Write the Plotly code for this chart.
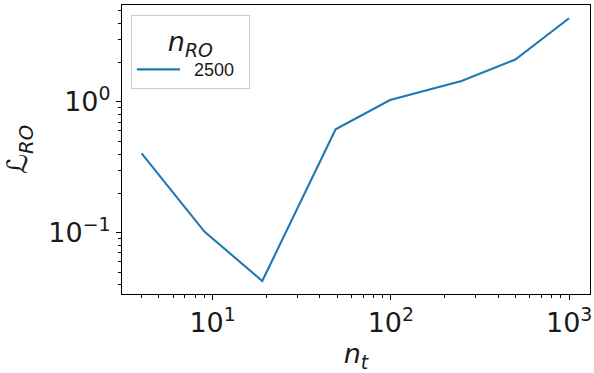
import plotly.graph_objects as go

# Time steps and readout loss for n_RO = 2500
n_t = [4, 9, 19, 49, 99, 249, 499, 999]
loss_ro = [0.405, 0.102, 0.0427, 0.618, 1.035, 1.45, 2.11, 4.37]
series_name = "2500"

x_major = [10, 100, 1000]
x_major_text = ["10<sup>1</sup>", "10<sup>2</sup>", "10<sup>3</sup>"]
y_major = [0.1, 1]
y_major_text = ["10<sup>\u22121</sup>", "10<sup>0</sup>"]

x_minor = [m * 10 ** k for k in range(0, 4) for m in range(2, 10)]
y_minor = [m * 10 ** k for k in range(-2, 1) for m in range(2, 10)]

FONT = "DejaVu Sans"

fig = go.Figure()
fig.add_trace(go.Scatter(
    x=n_t, y=loss_ro, mode="lines", name="\u2002" + series_name + "\u2002",
    line=dict(color="#1f77b4", width=2.1),
))

axis_common = dict(
    type="log",
    showgrid=False,
    zeroline=False,
    showline=True,
    linecolor="black",
    linewidth=1.1,
    mirror=True,
    ticks="outside",
    ticklen=5,
    tickwidth=1.1,
    tickcolor="black",
    tickmode="array",
    ticklabeloverflow="allow",
    tickfont=dict(family=FONT, size=27, color="#1a1a1a"),
)

fig.update_xaxes(
    **axis_common,
    range=[0.492, 3.117],
    tickvals=x_major, ticktext=x_major_text,
    minor=dict(ticks="outside", ticklen=3, tickwidth=0.8, tickcolor="black",
               tickmode="array", tickvals=x_minor),
    title=dict(text="<i>n</i><sub><i>t</i></sub>",
               font=dict(family=FONT, size=27, color="#1a1a1a"), standoff=8),
)
fig.update_yaxes(
    **axis_common,
    range=[-1.469, 0.742],
    tickvals=y_major, ticktext=y_major_text,
    minor=dict(ticks="outside", ticklen=3, tickwidth=0.8, tickcolor="black",
               tickmode="array", tickvals=y_minor),
    title=dict(text="\u2112<sub><i>RO</i></sub>",
               font=dict(family=FONT, size=28, color="#1a1a1a"), standoff=12),
)

fig.update_layout(
    width=594, height=373,
    margin=dict(l=122, r=2, t=5, b=79),
    paper_bgcolor="white",
    plot_bgcolor="white",
    showlegend=True,
    legend=dict(
        x=0.019, y=0.965, xanchor="left", yanchor="top",
        bgcolor="rgba(255,255,255,0.8)",
        bordercolor="#cccccc", borderwidth=1,
        itemwidth=43,
        font=dict(family="Liberation Sans", size=18, color="#1a1a1a"),
        title=dict(text="<i>n</i><sub><i>RO</i></sub>", side="top center",
                   font=dict(family=FONT, size=27, color="#1a1a1a")),
    ),
)

fig.write_html("out.html")
